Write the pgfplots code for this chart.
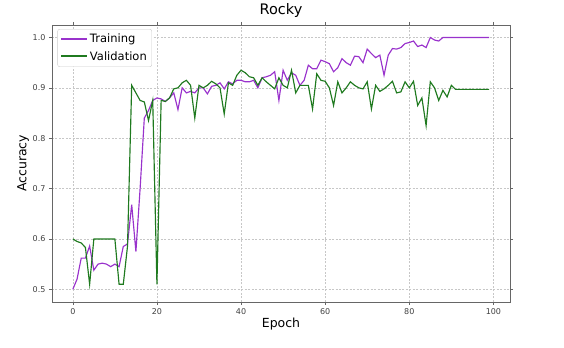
\documentclass[border=0pt]{standalone}
\usepackage{fontspec}
\setmainfont{DejaVu Sans}
\usepackage{pgfplots}
\pgfplotsset{compat=1.18}
\definecolor{trainc}{HTML}{9932CC}
\definecolor{valc}{HTML}{1F7A1F}
\begin{document}
\begin{tikzpicture}
\begin{axis}[
  scale only axis,
  width=458pt, height=277pt,
  xmin=-4.95, xmax=103.95,
  ymin=0.475, ymax=1.025,
  xtick={0,20,40,60,80,100},
  ytick={0.5,0.6,0.7,0.8,0.9,1.0},
  yticklabel style={/pgf/number format/.cd,fixed,fixed zerofill,precision=1},
  /pgf/number format/assume math mode=true,
  tick label style={font=\fontsize{8}{9}\selectfont, text=black!75},
  tick align=outside, major tick length=3pt,
  tick style={black!60},
  axis line style={black!60},
  grid=major,
  major grid style={dash pattern=on 2pt off 1.5pt, black!22, line width=0.5pt},
  title={Rocky},
  title style={font=\fontsize{14.5}{16}\selectfont, yshift=-2pt},
  xlabel={Epoch}, ylabel={Accuracy},
  label style={font=\fontsize{12.5}{14}\selectfont},
  xlabel style={yshift=3pt},
  ylabel style={yshift=-3pt},
  legend style={font=\fontsize{11.5}{13}\selectfont, draw=black!20, rounded corners=2pt, fill=white, inner sep=3pt, row sep=3pt, at={(0.012,0.985)}, anchor=north west},
  legend cell align=left,
]
\addlegendimage{legend image code/.code={\draw[trainc, line width=1.3pt] (0pt,0.5pt) -- (26pt,0.5pt);}}
\addlegendentry{Training}
\addlegendimage{legend image code/.code={\draw[valc, line width=1.3pt] (0pt,0.5pt) -- (26pt,0.5pt);}}
\addlegendentry{Validation}
\addplot[trainc, line width=1.15pt, forget plot] coordinates {
(0,0.500)(1,0.520)(2,0.562)(3,0.562)(4,0.586)(5,0.538)(6,0.550)(7,0.552)(8,0.550)(9,0.545)
(10,0.550)(11,0.545)(12,0.585)(13,0.590)(14,0.668)(15,0.575)(16,0.700)(17,0.840)(18,0.855)(19,0.875)
(20,0.880)(21,0.878)(22,0.873)(23,0.880)(24,0.890)(25,0.857)(26,0.900)(27,0.890)(28,0.893)(29,0.890)
(30,0.900)(31,0.900)(32,0.888)(33,0.903)(34,0.905)(35,0.910)(36,0.898)(37,0.912)(38,0.908)(39,0.915)
(40,0.915)(41,0.912)(42,0.912)(43,0.915)(44,0.900)(45,0.920)(46,0.922)(47,0.925)(48,0.932)(49,0.875)
(50,0.935)(51,0.915)(52,0.930)(53,0.925)(54,0.905)(55,0.915)(56,0.945)(57,0.938)(58,0.938)(59,0.955)
(60,0.952)(61,0.948)(62,0.932)(63,0.940)(64,0.958)(65,0.950)(66,0.945)(67,0.963)(68,0.962)(69,0.950)
(70,0.977)(71,0.968)(72,0.960)(73,0.965)(74,0.925)(75,0.965)(76,0.978)(77,0.977)(78,0.980)(79,0.988)
(80,0.990)(81,0.993)(82,0.982)(83,0.985)(84,0.980)(85,1.000)(86,0.995)(87,0.993)(88,1.000)(89,1.000)
(90,1.000)(91,1.000)(92,1.000)(93,1.000)(94,1.000)(95,1.000)(96,1.000)(97,1.000)(98,1.000)(99,1.000)
};
\addplot[valc, line width=1.15pt, forget plot] coordinates {
(0,0.600)(1,0.595)(2,0.592)(3,0.583)(4,0.510)(5,0.600)(6,0.600)(7,0.600)(8,0.600)(9,0.600)
(10,0.600)(11,0.510)(12,0.510)(13,0.585)(14,0.905)(15,0.890)(16,0.875)(17,0.872)(18,0.835)(19,0.875)
(20,0.510)(21,0.875)(22,0.873)(23,0.880)(24,0.898)(25,0.900)(26,0.910)(27,0.915)(28,0.905)(29,0.840)
(30,0.905)(31,0.900)(32,0.905)(33,0.913)(34,0.908)(35,0.900)(36,0.848)(37,0.910)(38,0.905)(39,0.925)
(40,0.935)(41,0.930)(42,0.922)(43,0.920)(44,0.905)(45,0.920)(46,0.912)(47,0.905)(48,0.898)(49,0.920)
(50,0.905)(51,0.900)(52,0.935)(53,0.890)(54,0.905)(55,0.905)(56,0.905)(57,0.858)(58,0.928)(59,0.915)
(60,0.913)(61,0.900)(62,0.865)(63,0.912)(64,0.890)(65,0.900)(66,0.912)(67,0.905)(68,0.900)(69,0.898)
(70,0.912)(71,0.858)(72,0.905)(73,0.893)(74,0.898)(75,0.905)(76,0.913)(77,0.890)(78,0.892)(79,0.912)
(80,0.900)(81,0.913)(82,0.865)(83,0.880)(84,0.825)(85,0.912)(86,0.900)(87,0.875)(88,0.895)(89,0.882)
(90,0.905)(91,0.897)(92,0.897)(93,0.897)(94,0.897)(95,0.897)(96,0.897)(97,0.897)(98,0.897)(99,0.897)
};
\end{axis}
\path (current axis.south west) ++(-52pt,-46pt) coordinate (bbA);
\path (current axis.north east) ++(54pt,23pt) coordinate (bbB);
\path (bbA) rectangle (bbB);
\end{tikzpicture}
\end{document}
